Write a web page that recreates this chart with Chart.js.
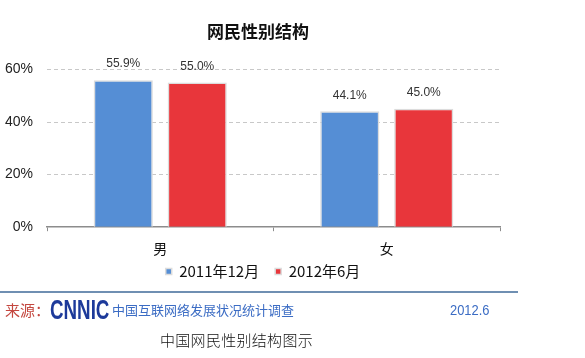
<!DOCTYPE html>
<html>
<head>
<meta charset="utf-8">
<script src="https://cdn.jsdelivr.net/npm/chart.js@4/dist/chart.umd.min.js"></script>
<style>
  html, body { margin: 0; padding: 0; background: #fff; }
  #wrap { position: relative; width: 585px; height: 358px; overflow: hidden; }
  #chartBox { position: absolute; left: 0; top: 0; width: 585px; height: 309px; }
  .t { position: absolute; white-space: nowrap; font-family: "Noto Sans CJK SC", sans-serif; }
  #rule { position: absolute; left: 0; top: 291px; width: 518px; height: 2px; background: #6f8fb2; }
</style>
</head>
<body>
<div id="wrap">
  <div id="chartBox"><canvas id="c"></canvas></div>
  <div id="rule"></div>
  <div class="t" style="left:5px; top:300px; font-size:15px; line-height:20px; color:#c4473f;">来源：</div>
  <div class="t" style="left:50px; top:295px; font-family:'Liberation Sans', Arial, sans-serif; font-weight:bold; font-size:28px; line-height:30px; color:#1d3a9a; transform:scaleX(0.67); transform-origin:left center;">CNNIC</div>
  <div class="t" style="left:112px; top:301px; font-size:13px; line-height:18px; color:#3b6cc4;">中国互联网络发展状况统计调查</div>
  <div class="t" style="left:450px; top:300px; font-family:'Liberation Sans', Arial, sans-serif; font-size:15px; line-height:20px; color:#3b6cc4; transform:scaleX(0.86); transform-origin:left center;">2012.6</div>
  <div class="t" style="left:160px; top:330px; font-size:15px; line-height:20px; color:#111; font-weight:300; letter-spacing:0.3px;">中国网民性别结构图示</div>
</div>
<script>
const categories = ["男", "女"];
const seriesNames = ["2011年12月", "2012年6月"];
const values2011Dec = [55.9, 44.1];
const values2012Jun = [55.0, 45.0];
const yTicks = [0, 20, 40, 60];
const chartTitle = "网民性别结构";

const valueLabels = {
  id: 'valueLabels',
  afterDatasetsDraw(chart) {
    const ctx = chart.ctx;
    ctx.save();
    ctx.font = '12px "Liberation Sans", Arial, sans-serif';
    ctx.fillStyle = '#333';
    ctx.textAlign = 'center';
    ctx.textBaseline = 'middle';
    chart.data.datasets.forEach((ds, i) => {
      const meta = chart.getDatasetMeta(i);
      meta.data.forEach((bar, j) => {
        ctx.fillText(ds.data[j].toFixed(1) + '%', bar.x, bar.y - 16);
      });
    });
    ctx.restore();
  }
};

const boxShift = {
  id: 'boxShift',
  afterLayout(chart) {
    const t = chart.titleBlock;
    if (t) { t.left += 8; t.right += 8; }
    const l = chart.legend;
    if (l) { l.left += 13; l.right += 13; l.top -= 18; l.bottom -= 18; }
  }
};

new Chart(document.getElementById('c'), {
  type: 'bar',
  data: {
    labels: categories,
    datasets: [
      { label: seriesNames[0], data: values2011Dec, backgroundColor: '#558ED5', borderColor: '#dcdcdc', borderWidth: 1.5, categoryPercentage: 0.653, barPercentage: 0.8 },
      { label: seriesNames[1], data: values2012Jun, backgroundColor: '#E8363B', borderColor: '#dcdcdc', borderWidth: 1.5, categoryPercentage: 0.653, barPercentage: 0.8 }
    ]
  },
  options: {
    responsive: true,
    maintainAspectRatio: false,
    animation: false,
    layout: { padding: { left: 0, right: 85, top: 0, bottom: 2 } },
    plugins: {
      title: {
        display: true,
        text: chartTitle,
        font: { family: '"Noto Sans CJK SC", sans-serif', size: 17, weight: 'bold' },
        color: '#111',
        padding: { top: 21, bottom: 28 }
      },
      legend: {
        position: 'bottom',
        labels: {
          font: { family: '"Noto Sans CJK SC", sans-serif', size: 15 },
          color: '#111',
          boxWidth: 6,
          boxHeight: 6,
          padding: 16
        }
      },
      tooltip: { enabled: false }
    },
    scales: {
      x: {
        grid: { display: true, drawOnChartArea: false, drawTicks: true, tickLength: 4, color: '#8c8c8c', offset: true },
        border: { display: true, color: '#8c8c8c', width: 1.5 },
        ticks: { font: { family: '"Noto Sans CJK SC", sans-serif', size: 14 }, color: '#111', padding: 9 }
      },
      y: {
        min: 0, max: 60,
        afterFit(scale) { scale.width = 47; },
        afterBuildTicks(scale) { scale.ticks = yTicks.map(v => ({ value: v })); },
        grid: { drawTicks: false, color: ctx => ctx.tick && ctx.tick.value === 0 ? 'rgba(0,0,0,0)' : '#c8c8c8' },
        border: { display: false, dash: [4, 3] },
        ticks: { padding: 14, font: { family: '"Liberation Sans", Arial, sans-serif', size: 14 }, color: '#222', callback: v => v + '%' }
      }
    }
  },
  plugins: [valueLabels, boxShift]
});
</script>
</body>
</html>
